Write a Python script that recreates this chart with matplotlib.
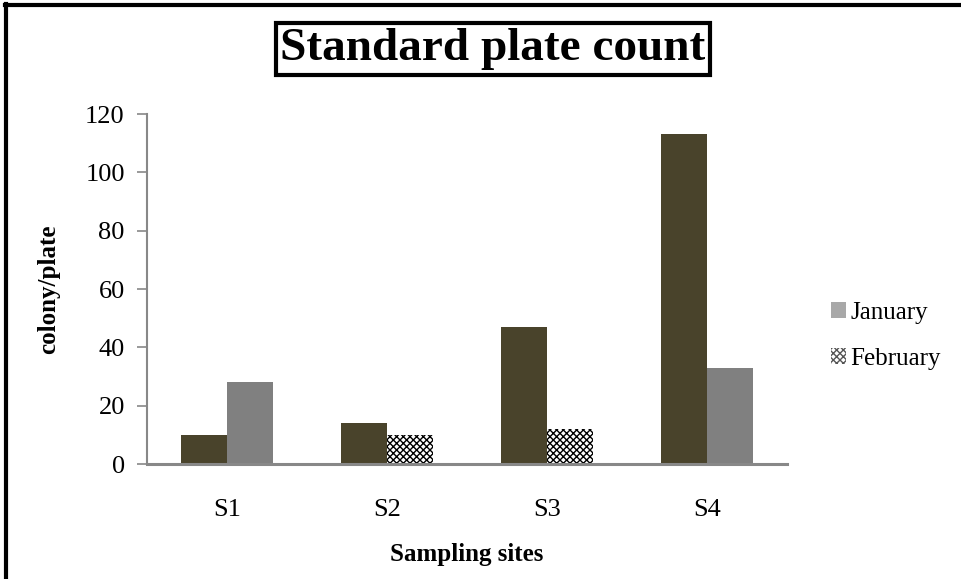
import matplotlib
matplotlib.use("Agg")
import matplotlib.pyplot as plt
import numpy as np
from matplotlib.patches import Patch
from matplotlib.lines import Line2D

categories = ["S1", "S2", "S3", "S4"]
january = [10, 14, 47, 113]
february = [28, 10, 12, 33]
yticks = [0, 20, 40, 60, 80, 100, 120]

plt.rcParams['font.family'] = ['Liberation Serif', 'DejaVu Serif']
plt.rcParams['hatch.linewidth'] = 1.0

fig = plt.figure(figsize=(9.62, 5.79), dpi=100)
ax = fig.add_axes([0.1528, 0.1986, 0.818 - 0.1528, 0.803 - 0.1986])

x = np.arange(len(categories))
w = 0.2875
jan_color = '#49432b'
ax.bar(x - w / 2, january, width=w, color=jan_color, linewidth=0)
feb_hatched = [False, True, True, False]
for xi, v, h in zip(x, february, feb_hatched):
    if h:
        ax.bar(xi + w / 2, v, width=w, facecolor='white', edgecolor='black',
               hatch='xxxxx', linewidth=0)
    else:
        ax.bar(xi + w / 2, v, width=w, color='#808080', linewidth=0)

ax.set_xlim(-0.5, len(categories) - 0.5)
ax.set_ylim(0, 120)
ax.set_yticks(yticks)
ax.set_xticks(x)
ax.set_xticklabels(categories)
ax.tick_params(axis='y', labelsize=19, length=7, width=1.2, color='#888888', pad=9)
ax.tick_params(axis='x', labelsize=19, length=0, pad=25)
for s in ['top', 'right']:
    ax.spines[s].set_visible(False)
for s in ['left', 'bottom']:
    ax.spines[s].set_color('#888888')
    ax.spines[s].set_linewidth(1.5)
ax.spines['bottom'].set_linewidth(2.2)

ax.set_ylabel('colony/plate', fontsize=18, fontweight='bold', labelpad=18)
ax.set_xlabel('Sampling sites', fontsize=18, fontweight='bold', labelpad=16)

handles = [Patch(facecolor='#a8a8a8', edgecolor='none'),
           Patch(facecolor='white', edgecolor='#555555', hatch='xxxxx', linewidth=0)]
fig.legend(handles, ['January', 'February'], loc='center left',
           bbox_to_anchor=(0.84, 0.42), frameon=False, fontsize=18,
           handlelength=0.6, handleheight=0.6, handletextpad=0.2, labelspacing=0.95)

fig.text(0.5125, 0.915, 'Standard plate count', fontsize=34, fontweight='bold',
         ha='center', va='center',
         bbox=dict(boxstyle='square,pad=0.1', facecolor='white', edgecolor='black', linewidth=3))

fig.add_artist(Line2D([0.0065, 0.0065], [0, 0.993], transform=fig.transFigure, color='black', linewidth=3))
fig.add_artist(Line2D([0.005, 1.0], [0.991, 0.991], transform=fig.transFigure, color='black', linewidth=3))

fig.savefig('out.png', dpi=100)
